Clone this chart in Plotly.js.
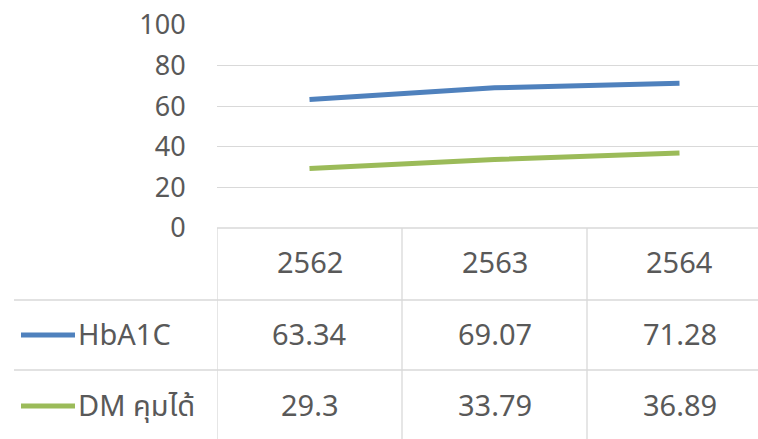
<!DOCTYPE html>
<html><head><meta charset="utf-8">
<script src="https://cdn.plot.ly/plotly-3.0.1.min.js"></script>
<style>html,body{margin:0;padding:0;background:#fff;}#chart{width:758px;height:439px;}</style>
</head><body><div id="chart"></div>
<script>
const categories = ["2562", "2563", "2564"];
const seriesNames = ["HbA1C", "DM คุมได้"];
const hba1c = [63.34, 69.07, 71.28];
const dmControlled = [29.3, 33.79, 36.89];
const tickValues = [0, 20, 40, 60, 80, 100];

const W = 758, H = 439;
const M = {l: 217, r: 0, t: 25, b: 211};
const plotW = W - M.l - M.r, plotH = H - M.t - M.b;
const px = x => (x - M.l) / plotW;         // pixel x -> paper
const py = y => (H - M.b - y) / plotH;     // pixel y -> paper

const colors = ["#4F81BD", "#9BBB59"];
const textColor = "#595959";
const gridColor = "#D9D9D9";
const fontFam = "'Noto Sans', 'Noto Sans Thai', 'DejaVu Sans', sans-serif";
const fs = 29;
const seriesData = [hba1c, dmControlled];

const traces = seriesData.map((vals, i) => ({
  x: categories, y: vals, type: "scatter", mode: "lines",
  name: seriesNames[i],
  line: {color: colors[i], width: 5},
  hoverinfo: "skip"
}));

const shapes = [];
const annotations = [];
const rowLinesY = [228, 300, 370];
rowLinesY.forEach((y, i) => {
  shapes.push({type: "line", xref: "paper", yref: "paper",
    x0: i === 0 ? px(217) : px(14), x1: 1, y0: py(y), y1: py(y),
    line: {color: gridColor, width: 1.3}});
});
[-0.5, 0.5, 1.5].forEach(xv => {
  shapes.push({type: "line", xref: "x", yref: "paper",
    x0: xv, x1: xv, y0: py(228), y1: py(H + 5),
    line: {color: gridColor, width: 1.3}});
});
const rowCenters = [261, 333, 404];
const cellFont = {size: fs, color: textColor, family: fontFam};
categories.forEach((c, j) => {
  annotations.push({x: j, xref: "x", y: py(rowCenters[0]), yref: "paper",
    text: c, showarrow: false, font: cellFont, xanchor: "center", yanchor: "middle"});
});
seriesData.forEach((vals, i) => {
  const yc = rowCenters[i + 1];
  vals.forEach((v, j) => {
    annotations.push({x: j, xref: "x", y: py(yc), yref: "paper",
      text: String(v), showarrow: false, font: cellFont, xanchor: "center", yanchor: "middle"});
  });
  shapes.push({type: "line", xref: "paper", yref: "paper",
    x0: px(21), x1: px(75), y0: py(yc + 2), y1: py(yc + 2),
    line: {color: colors[i], width: 5}});
  annotations.push({x: px(76), xref: "paper", y: py(yc), yref: "paper",
    text: seriesNames[i], showarrow: false, font: cellFont, xanchor: "left", yanchor: "middle"});
});

const layout = {
  width: W, height: H,
  margin: M,
  paper_bgcolor: "#ffffff", plot_bgcolor: "#ffffff",
  showlegend: false,
  font: {family: fontFam, color: textColor, size: fs},
  xaxis: {type: "category", range: [-0.5, -0.5 + plotW / 185],
    showticklabels: false, showgrid: false, zeroline: false, showline: false, ticks: ""},
  yaxis: {range: [0, 100], tickvals: tickValues, ticktext: tickValues.map(String),
    showgrid: true, gridcolor: gridColor, gridwidth: 1.3, zeroline: false, showline: false,
    ticks: "outside", ticklen: 25, tickcolor: "rgba(0,0,0,0)",
    tickfont: {size: 27, color: textColor, family: fontFam}},
  shapes: shapes,
  annotations: annotations
};
Plotly.newPlot("chart", traces, layout, {staticPlot: true, displayModeBar: false});
</script></body></html>
